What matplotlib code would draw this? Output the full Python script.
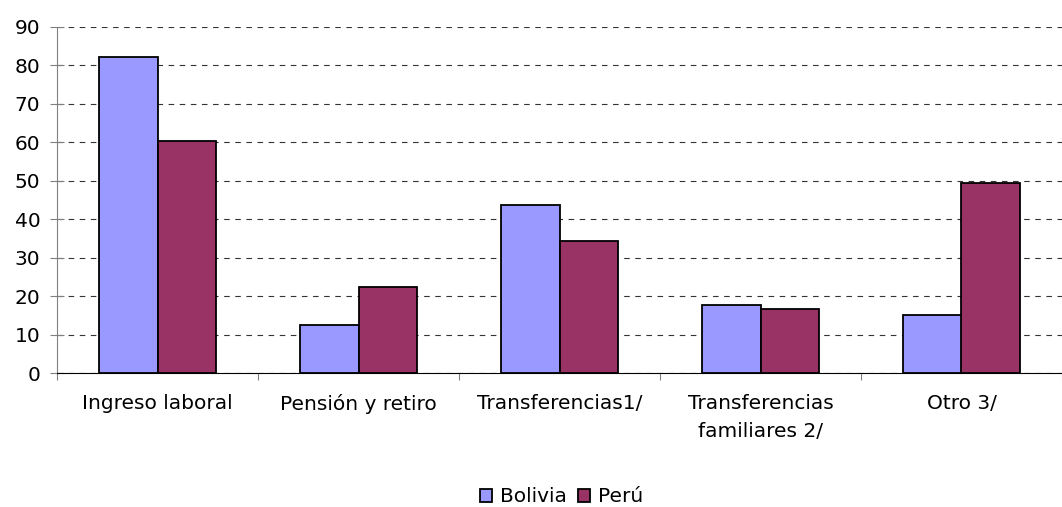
import numpy as np
import matplotlib
matplotlib.use("Agg")
import matplotlib.pyplot as plt

categories = ["Ingreso laboral", "Pensión y retiro", "Transferencias1/",
              "Transferencias\nfamiliares 2/", "Otro 3/"]
bolivia = [82.2, 12.5, 43.7, 17.7, 15.1]
peru = [60.3, 22.5, 34.4, 16.6, 49.5]
series_names = ["Bolivia", "Perú"]
y_ticks = list(range(0, 100, 10))

BOL = "#9999FF"
PER = "#993366"

plt.rcParams.update({
    "font.family": "DejaVu Sans",
    "font.size": 14.5,
})

fig = plt.figure(figsize=(10.62, 5.07), dpi=100, facecolor="white")
ax = fig.add_axes([57 / 1062, 1 - 373.3 / 507, 1 - 57 / 1062, (373.3 - 26.7) / 507])

x = np.arange(len(categories))
w = 0.29
ax.bar(x - w / 2, bolivia, width=w, color=BOL, edgecolor="black", linewidth=1.3,
       label=series_names[0], zorder=3)
ax.bar(x + w / 2, peru, width=w, color=PER, edgecolor="black", linewidth=1.3,
       label=series_names[1], zorder=3)

ax.set_ylim(0, 90)
ax.set_xlim(-0.491, 4.459)
ax.set_yticks(y_ticks)
ax.yaxis.grid(True, linestyle=(0, (5, 5)), color="#333333", linewidth=0.8)
ax.set_axisbelow(True)

# category boundaries get the tick marks, labels sit on the centres
ax.set_xticks(np.arange(len(categories) + 1) - 0.5)
ax.set_xticklabels([])
ax.set_xticks(x, minor=True)
ax.set_xticklabels(categories, minor=True, ha="center", linespacing=1.6)
ax.tick_params(axis="x", which="major", direction="out", length=5, color="#808080")
ax.tick_params(axis="x", which="minor", length=0, pad=15)
ax.tick_params(axis="y", direction="inout", length=10, color="#808080", pad=7)

for s in ("top", "right"):
    ax.spines[s].set_visible(False)
ax.spines["left"].set_color("#808080")
ax.spines["bottom"].set_color("black")

fig.legend(loc="center", bbox_to_anchor=(562 / 1062, 1 - 497 / 507), ncol=2,
           frameon=False, handlelength=0.6, handleheight=0.6, handletextpad=0.4,
           columnspacing=0.55, fontsize=14.5, borderpad=0.1)

fig.savefig("out.png", dpi=100, facecolor="white")
